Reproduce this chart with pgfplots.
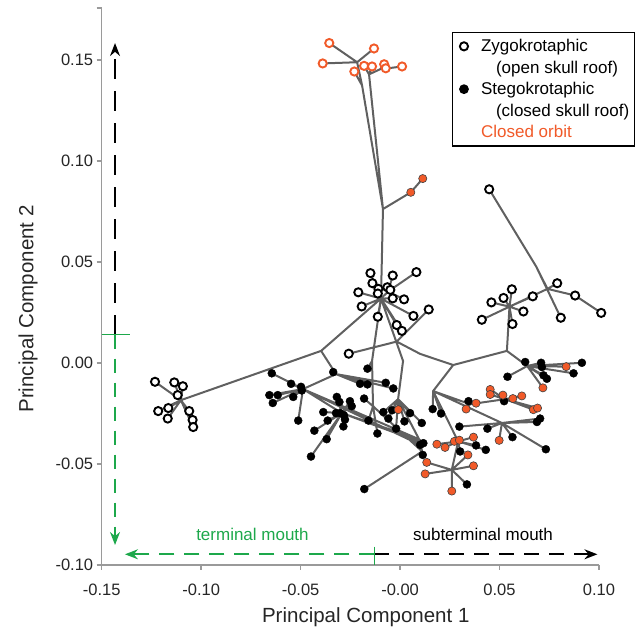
\documentclass[border=0pt]{standalone}
\usepackage{fontspec}
\setmainfont{Liberation Sans}
\usepackage{pgfplots}
\pgfplotsset{compat=1.18}
\usetikzlibrary{arrows.meta}
\definecolor{branch}{HTML}{606060}
\definecolor{orbit}{HTML}{F15A29}
\definecolor{mouthgreen}{HTML}{1DA84B}
\definecolor{axisgray}{HTML}{9A9A9A}

\begin{document}
\begin{tikzpicture}
\begin{axis}[
  scale only axis, width=497.3pt, height=556.7pt,
  xmin=-0.15, xmax=0.10, ymin=-0.10, ymax=0.1756,
  axis x line*=bottom, axis y line*=left,
  axis line style={axisgray, line width=1.6pt},
  tick style={axisgray, line width=1.6pt},
  tick align=outside, major tick length=5pt,
  xtick={-0.15,-0.10,-0.05,0,0.05,0.10},
  xticklabels={-0.15,-0.10,-0.05,-0.00,0.05,0.10},
  ytick={-0.10,-0.05,0,0.05,0.10,0.15},
  yticklabels={-0.10,-0.05,0.00,0.05,0.10,0.15},
  extra y ticks={0.1756}, extra y tick labels={},
  ticklabel style={font=\fontsize{16.5}{19}\selectfont, text=black!85},
  xticklabel style={yshift=-10pt},
  xlabel={Principal Component 1}, ylabel={Principal Component 2},
  every axis x label/.style={at={(axis description cs:0.531,0)}, anchor=center, yshift=-52pt, font=\fontsize{20.5}{24}\selectfont, text=black!85},
  every axis y label/.style={at={(axis description cs:-0.1480,0.46)}, rotate=90, anchor=center, font=\fontsize{20.5}{24}\selectfont, text=black!85},
  clip=false,
  legend style={at={(axis description cs:0.7038,0.958)}, anchor=north west, draw=black, line width=1.5pt,
    font=\fontsize{17}{20}\selectfont, inner xsep=3pt, inner ysep=5pt, row sep=3.6pt,
    /tikz/every odd column/.append style={column sep=11pt}},
  legend cell align=left,
]
\addlegendimage{only marks, mark=*, mark size=4.1pt, mark options={fill=white, draw=black, line width=1.9pt}}
\addlegendentry{Zygokrotaphic}
\addlegendimage{empty legend}
\addlegendentry{\hspace*{15pt}(open skull roof)}
\addlegendimage{only marks, mark=*, mark size=4.1pt, black}
\addlegendentry{Stegokrotaphic}
\addlegendimage{empty legend}
\addlegendentry{\hspace*{15pt}(closed skull roof)}
\addlegendimage{empty legend}
\addlegendentry{\textcolor{orbit}{Closed orbit}}

% tree branches
\addplot[branch, line width=2pt, line join=round, unbounded coords=jump, mark=none, forget plot] coordinates {
(-0.0356,0.1584) (-0.0216,0.1489) (-0.0131,0.1557) (-0.0216,0.1489) (-0.0389,0.1483) (-0.0216,0.1489)
(-0.0191,0.1374) (-0.0230,0.1443) (-0.0191,0.1374) (-0.0086,0.0762) (-0.0156,0.1429) (-0.0181,0.1471)
(-0.0156,0.1429) (-0.0141,0.1468) (-0.0156,0.1429) (-0.0101,0.1454) (-0.0080,0.1479) (-0.0101,0.1454)
(-0.0072,0.1459) (-0.0101,0.1454) (0.0010,0.1468)
(0,nan)
(0.0114,0.0913) (0.0054,0.0845) (-0.0086,0.0762) (-0.0096,0.0319)
(-0.0149,0.0445) (-0.0096,0.0319) (-0.0139,0.0395) (-0.0096,0.0319) (-0.0109,0.0367) (-0.0096,0.0319)
(-0.0210,0.0350) (-0.0096,0.0319) (-0.0112,0.0344) (-0.0096,0.0319) (-0.0037,0.0320) (-0.0096,0.0319)
(-0.0193,0.0280) (-0.0096,0.0319) (0.0067,0.0233) (-0.0096,0.0319) (-0.0112,0.0229) (-0.0096,0.0319)
(-0.0017,0.0188) (-0.0096,0.0319) (0.0009,0.0159) (-0.0096,0.0319) (-0.0060,0.0354) (-0.0037,0.0433)
(-0.0060,0.0354) (0.0082,0.0450) (-0.0060,0.0354) (-0.0064,0.0375) (-0.0060,0.0354) (-0.0049,0.0362)
(-0.0060,0.0354) (0.0020,0.0315)
(0,nan)
(0.0144,0.0265) (-0.0017,0.0106) (-0.0258,0.0046)
(0,nan)
(-0.0017,0.0106) (0.0101,0.0045) (0.0267,-0.0010) (0.0537,0.0060) (0.0550,0.0279)
(0,nan)
(-0.0096,0.0319) (-0.0397,0.0060) (-0.1102,-0.0184)
(-0.1232,-0.0093) (-0.1102,-0.0184) (-0.1135,-0.0096) (-0.1102,-0.0184) (-0.1092,-0.0115) (-0.1102,-0.0184)
(-0.1118,-0.0159) (-0.1102,-0.0184) (-0.1216,-0.0238) (-0.1102,-0.0184) (-0.1165,-0.0223) (-0.1102,-0.0184)
(-0.1168,-0.0275) (-0.1102,-0.0184) (-0.1060,-0.0238) (-0.1102,-0.0184) (-0.1043,-0.0282) (-0.1102,-0.0184)
(-0.1040,-0.0317)
(0,nan)
(-0.0096,0.0319) (-0.0141,0.0010) (-0.0164,-0.0028)
(0,nan)
(-0.0141,0.0010) (-0.0136,-0.0214) (-0.0159,-0.0285) (-0.0136,-0.0214) (-0.0114,-0.0349) (-0.0136,-0.0214)
(-0.0181,-0.0176) (-0.0136,-0.0214) (0.0111,-0.0438) (0.0114,-0.0455) (0.0111,-0.0438) (-0.0180,-0.0624)
(0,nan)
(0.0111,-0.0438) (0.0096,-0.0378) (0.0101,-0.0405) (0.0096,-0.0378) (0.0117,-0.0397)
(0,nan)
(-0.0096,0.0319) (0.0015,0.0010) (-0.0010,-0.0179)
(-0.0084,-0.0243) (-0.0010,-0.0179) (-0.0040,-0.0234) (-0.0010,-0.0179) (-0.0009,-0.0231) (-0.0010,-0.0179)
(-0.0059,-0.0275) (-0.0010,-0.0179) (-0.0020,-0.0325) (-0.0010,-0.0179) (0.0022,-0.0289) (-0.0010,-0.0179)
(0.0050,-0.0248) (-0.0010,-0.0179) (0.0109,-0.0297) (-0.0010,-0.0179) (0.0096,-0.0378)
(0,nan)
(-0.0397,0.0060) (-0.0322,-0.0055) (-0.0336,-0.0045) (-0.0322,-0.0055) (-0.0072,-0.0098)
(-0.0322,-0.0055) (-0.0034,-0.0126) (-0.0322,-0.0055) (-0.0164,-0.0106) (-0.0322,-0.0055) (-0.0201,-0.0103)
(-0.0322,-0.0055) (-0.0488,-0.0129)
(-0.0645,-0.0051) (-0.0488,-0.0129) (-0.0548,-0.0103) (-0.0488,-0.0129) (-0.0498,-0.0118) (-0.0488,-0.0129)
(-0.0494,-0.0136) (-0.0488,-0.0129) (-0.0657,-0.0159) (-0.0488,-0.0129) (-0.0615,-0.0159) (-0.0488,-0.0129)
(-0.0537,-0.0168) (-0.0488,-0.0129) (-0.0640,-0.0198) (-0.0488,-0.0129) (-0.0512,-0.0285) (-0.0488,-0.0129)
(0.0096,-0.0378) (-0.0488,-0.0129) (0.0101,-0.0405) (-0.0488,-0.0129) (-0.0293,-0.0248)
(-0.0318,-0.0168) (-0.0293,-0.0248) (-0.0305,-0.0193) (-0.0293,-0.0248) (-0.0252,-0.0189) (-0.0293,-0.0248)
(-0.0243,-0.0214) (-0.0293,-0.0248) (-0.0386,-0.0243) (-0.0293,-0.0248) (-0.0322,-0.0248) (-0.0293,-0.0248)
(-0.0302,-0.0248) (-0.0293,-0.0248) (-0.0282,-0.0259) (-0.0293,-0.0248) (-0.0277,-0.0280) (-0.0293,-0.0248)
(-0.0364,-0.0285) (-0.0293,-0.0248) (-0.0431,-0.0335) (-0.0293,-0.0248) (-0.0369,-0.0377) (-0.0293,-0.0248)
(-0.0285,-0.0314) (-0.0293,-0.0248) (-0.0448,-0.0463) (-0.0293,-0.0248) (0.0096,-0.0378) (-0.0293,-0.0248)
(0.0117,-0.0397)
(0,nan)
(0.0537,0.0060) (0.0639,-0.0015)
(0.0629,0.0005) (0.0639,-0.0015) (0.0709,0.0001) (0.0639,-0.0015) (0.0713,-0.0020) (0.0639,-0.0015)
(0.0914,0.0001) (0.0639,-0.0015) (0.0872,-0.0051) (0.0639,-0.0015) (0.0540,-0.0068) (0.0639,-0.0015)
(0.0721,-0.0061) (0.0639,-0.0015) (0.0738,-0.0078) (0.0639,-0.0015) (0.0835,-0.0018) (0.0639,-0.0015)
(0.0718,-0.0123)
(0,nan)
(0.0267,-0.0010) (0.0166,-0.0139)
(0.0164,-0.0228) (0.0166,-0.0139) (0.0206,-0.0250) (0.0166,-0.0139) (0.0512,-0.0297) (0.0166,-0.0139)
(0.0292,-0.0388) (0.0166,-0.0139) (0.0352,-0.0204)
(0.0382,-0.0199) (0.0352,-0.0204) (0.0332,-0.0228) (0.0352,-0.0204) (0.0344,-0.0189) (0.0352,-0.0204)
(0.0528,-0.0179)
(0.0453,-0.0131) (0.0528,-0.0179) (0.0453,-0.0156) (0.0528,-0.0179) (0.0517,-0.0159) (0.0528,-0.0179)
(0.0567,-0.0176) (0.0528,-0.0179) (0.0612,-0.0163) (0.0528,-0.0179) (0.0523,-0.0189) (0.0528,-0.0179)
(0.0670,-0.0231) (0.0528,-0.0179) (0.0691,-0.0223)
(0,nan)
(0.0512,-0.0297) (0.0298,-0.0315) (0.0512,-0.0297) (0.0439,-0.0325) (0.0512,-0.0297) (0.0688,-0.0292)
(0.0512,-0.0297) (0.0704,-0.0275) (0.0512,-0.0297) (0.0565,-0.0367) (0.0512,-0.0297) (0.0733,-0.0427)
(0.0512,-0.0297) (0.0498,-0.0383)
(0,nan)
(0.0292,-0.0388) (0.0369,-0.0367) (0.0292,-0.0388) (0.0185,-0.0402) (0.0292,-0.0388) (0.0226,-0.0418)
(0.0292,-0.0388) (0.0273,-0.0388) (0.0292,-0.0388) (0.0298,-0.0382) (0.0292,-0.0388) (0.0302,-0.0438)
(0.0292,-0.0388) (0.0382,-0.0408) (0.0292,-0.0388) (0.0431,-0.0430) (0.0292,-0.0388) (0.0260,-0.0529)
(0.0134,-0.0492) (0.0260,-0.0529) (0.0126,-0.0549) (0.0260,-0.0529) (0.0341,-0.0455) (0.0260,-0.0529)
(0.0369,-0.0509) (0.0260,-0.0529) (0.0260,-0.0634) (0.0260,-0.0529) (0.0336,-0.0601)
(0,nan)
(0.0550,0.0279) (0.0562,0.0365) (0.0550,0.0279) (0.0520,0.0322) (0.0550,0.0279) (0.0459,0.0300)
(0.0550,0.0279) (0.0667,0.0330) (0.0550,0.0279) (0.0620,0.0255) (0.0550,0.0279) (0.0411,0.0214)
(0.0550,0.0279) (0.0565,0.0193) (0.0550,0.0279) (0.0741,0.0367) (0.0790,0.0395) (0.0741,0.0367)
(0.0880,0.0334) (0.1011,0.0248)
(0,nan)
(0.0741,0.0367) (0.0684,0.0478) (0.0448,0.0860)
(0,nan)
(0.0684,0.0478) (0.0808,0.0224)
};

% zygokrotaphic, open orbit
\addplot[only marks, mark=*, mark size=4.1pt, mark options={fill=white, draw=black, line width=1.9pt}, forget plot] coordinates {
(-0.1232,-0.0093) (-0.1135,-0.0096) (-0.1092,-0.0115) (-0.1118,-0.0159) (-0.1216,-0.0238)
(-0.1165,-0.0223) (-0.1168,-0.0275) (-0.1060,-0.0238) (-0.1043,-0.0282) (-0.1040,-0.0317)
(-0.0149,0.0445) (-0.0037,0.0433) (0.0082,0.0450) (-0.0139,0.0395) (-0.0109,0.0367)
(-0.0064,0.0375) (-0.0049,0.0362) (-0.0210,0.0350) (-0.0112,0.0344) (-0.0037,0.0320)
(0.0020,0.0315) (-0.0193,0.0280) (0.0144,0.0265) (0.0067,0.0233) (-0.0112,0.0229)
(-0.0017,0.0188) (0.0009,0.0159) (-0.0258,0.0046)
(0.0448,0.0860) (0.0790,0.0395) (0.0880,0.0334) (0.1011,0.0248) (0.0808,0.0224)
(0.0562,0.0365) (0.0520,0.0322) (0.0459,0.0300) (0.0667,0.0330) (0.0620,0.0255)
(0.0411,0.0214) (0.0565,0.0193)
};
% zygokrotaphic, closed orbit
\addplot[only marks, mark=*, mark size=4.1pt, mark options={fill=white, draw=orbit, line width=1.9pt}, forget plot] coordinates {
(-0.0356,0.1584) (-0.0389,0.1483) (-0.0131,0.1557) (-0.0230,0.1443) (-0.0181,0.1471)
(-0.0141,0.1468) (-0.0080,0.1479) (-0.0072,0.1459) (0.0010,0.1468)
};
% stegokrotaphic, open orbit
\addplot[only marks, mark=*, mark size=4.0pt, mark options={fill=black, draw=black}, forget plot] coordinates {
(-0.0645,-0.0051) (-0.0336,-0.0045) (-0.0164,-0.0028) (-0.0548,-0.0103) (-0.0498,-0.0118)
(-0.0494,-0.0136) (-0.0201,-0.0103) (-0.0164,-0.0106) (-0.0072,-0.0098) (-0.0034,-0.0126)
(-0.0657,-0.0159) (-0.0615,-0.0159) (-0.0537,-0.0168) (-0.0640,-0.0198) (-0.0318,-0.0168)
(-0.0305,-0.0193) (-0.0252,-0.0189) (-0.0243,-0.0214) (-0.0181,-0.0176) (-0.0386,-0.0243)
(-0.0322,-0.0248) (-0.0302,-0.0248) (-0.0282,-0.0259) (-0.0277,-0.0280) (-0.0364,-0.0285)
(-0.0512,-0.0285) (-0.0431,-0.0335) (-0.0369,-0.0377) (-0.0285,-0.0314) (-0.0159,-0.0285)
(-0.0084,-0.0243) (-0.0040,-0.0234) (-0.0059,-0.0275) (-0.0020,-0.0325) (0.0022,-0.0289)
(0.0050,-0.0248) (0.0109,-0.0297) (-0.0114,-0.0349) (0.0101,-0.0405) (0.0117,-0.0397)
(0.0114,-0.0455) (-0.0448,-0.0463) (-0.0180,-0.0624) (0.0164,-0.0228) (0.0206,-0.0250)
(0.0629,0.0005) (0.0709,0.0001) (0.0713,-0.0020) (0.0914,0.0001) (0.0872,-0.0051)
(0.0540,-0.0068) (0.0721,-0.0061) (0.0738,-0.0078) (0.0344,-0.0189) (0.0523,-0.0189)
(0.0298,-0.0315) (0.0439,-0.0325) (0.0688,-0.0292) (0.0704,-0.0275) (0.0565,-0.0367)
(0.0733,-0.0427) (0.0302,-0.0438) (0.0382,-0.0408) (0.0431,-0.0430) (0.0336,-0.0601)
};
% stegokrotaphic, closed orbit
\addplot[only marks, mark=*, mark size=4.1pt, mark options={fill=orbit, draw=black!75, line width=0.6pt}, forget plot] coordinates {
(0.0054,0.0845) (0.0114,0.0913)
(-0.0009,-0.0231) (0.0134,-0.0492) (0.0126,-0.0549) (0.0835,-0.0018) (0.0718,-0.0123)
(0.0453,-0.0131) (0.0453,-0.0156) (0.0517,-0.0159) (0.0567,-0.0176) (0.0612,-0.0163)
(0.0382,-0.0199) (0.0332,-0.0228) (0.0670,-0.0231) (0.0691,-0.0223) (0.0369,-0.0367)
(0.0498,-0.0383) (0.0185,-0.0402) (0.0226,-0.0418) (0.0273,-0.0388) (0.0298,-0.0382)
(0.0341,-0.0455) (0.0369,-0.0509) (0.0260,-0.0634)
};

% mouth position arrows
\draw[black, line width=1.6pt, dash pattern=on 20pt off 12pt, -{Stealth[length=13pt,width=10pt]}] (axis cs:-0.1433,0.0141) -- (axis cs:-0.1433,0.1584);
\draw[mouthgreen, line width=1.6pt, dash pattern=on 14pt off 10pt, -{Stealth[length=13pt,width=10pt]}] (axis cs:-0.1433,0.0141) -- (axis cs:-0.1433,-0.0901);
\draw[mouthgreen, line width=1.6pt] (axis cs:-0.1500,0.0141) -- (axis cs:-0.1358,0.0141);
\draw[mouthgreen, line width=1.6pt, dash pattern=on 15pt off 10pt, -{Stealth[length=13pt,width=10pt]}] (axis cs:-0.0129,-0.0947) -- (axis cs:-0.1383,-0.0947);
\draw[black, line width=1.6pt, dash pattern=on 15pt off 10pt, -{Stealth[length=13pt,width=10pt]}] (axis cs:-0.0129,-0.0947) -- (axis cs:0.0992,-0.0947);
\draw[mouthgreen, line width=1.6pt] (axis cs:-0.0129,-0.0909) -- (axis cs:-0.0129,-0.1000);
\node[mouthgreen, font=\fontsize{17}{20}\selectfont] at (axis cs:-0.0742,-0.0851) {terminal mouth};
\node[black, font=\fontsize{17}{20}\selectfont] at (axis cs:0.0417,-0.0851) {subterminal mouth};
\end{axis}
\pgfresetboundingbox
\path (-101.7pt,-67pt) rectangle (539.3pt,565pt);
\end{tikzpicture}
\end{document}
